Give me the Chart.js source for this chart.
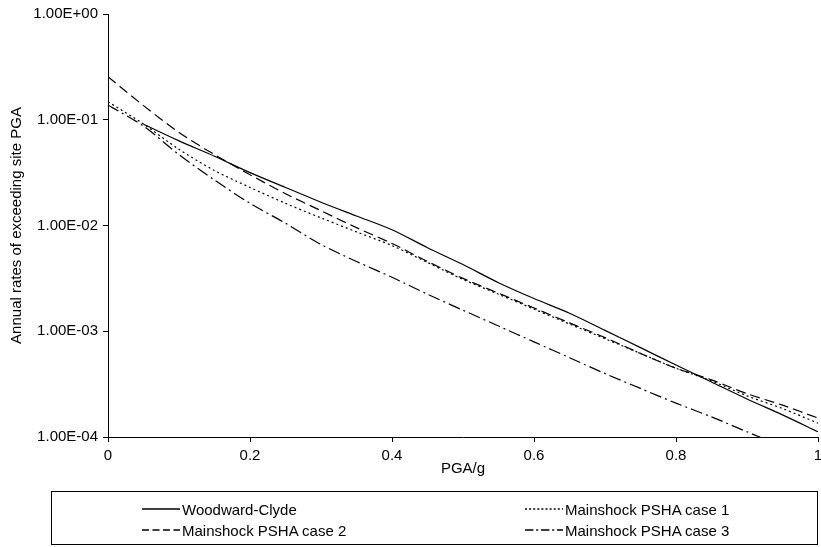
<!DOCTYPE html>
<html>
<head>
<meta charset="utf-8">
<script src="https://cdn.jsdelivr.net/npm/chart.js@4/dist/chart.umd.min.js"></script>
<style>
  body { margin: 0; background: #fff; font-family: "Liberation Sans", Arial, sans-serif; }
  #wrap { position: relative; width: 821px; height: 547px; }
  #legend {
    position: absolute; left: 51px; top: 491px; width: 767px; height: 54px;
    border: 1px solid #000; box-sizing: border-box; font-size: 15px; color: #000;
  }
  .item { position: absolute; display: flex; align-items: center; white-space: nowrap; height: 18px; }
  .item svg { margin-right: 2px; }
</style>
</head>
<body>
<div id="wrap">
  <canvas id="haz" width="821" height="547"></canvas>
  <div id="legend"></div>
</div>
<script>
// Courbes d'aléa : taux annuels de dépassement du PGA
const pga = [0, 0.05, 0.1, 0.15, 0.2, 0.25, 0.3, 0.35, 0.4, 0.45, 0.5,
  0.55, 0.6, 0.65, 0.7, 0.75, 0.8, 0.85, 0.9, 0.95, 1];

const woodwardClyde = [null, 0.0906, 0.0631, 0.0452, 0.0316, 0.0229, 0.0166, 0.0123, 0.00912, 0.00617, 0.00427,
  0.00288, 0.00204, 0.00148, 0.00102, 0.0007, 0.000479, 0.000331, 0.000229, 0.000162, 0.000112];
const case1 = [0.148, 0.0912, 0.0525, 0.0331, 0.0229, 0.0162, 0.0118, 0.0087, 0.00646, 0.00447, 0.00309,
  0.00224, 0.00162, 0.00117, 0.000851, 0.000617, 0.000447, 0.000339, 0.000245, 0.000186, 0.000135];
const case2 = [0.255, 0.136, 0.0759, 0.0468, 0.0302, 0.02, 0.0138, 0.00955, 0.00676, 0.00457, 0.00316,
  0.00229, 0.00166, 0.0012, 0.000871, 0.000617, 0.000447, 0.000347, 0.000257, 0.0002, 0.000151];
const case3 = [0.138, 0.0871, 0.0468, 0.0269, 0.0162, 0.0105, 0.00661, 0.00457, 0.00324, 0.00224, 0.00158,
  0.00112, 0.000794, 0.000562, 0.000398, 0.000288, 0.000209, 0.000155, 0.000112, 0.0000813, null];

const xTicks = [0, 0.2, 0.4, 0.6, 0.8, 1];
const yTicks = [1e-4, 1e-3, 1e-2, 1e-1, 1];

const series = [
  { label: "Woodward-Clyde", values: woodwardClyde, dash: [] },
  { label: "Mainshock PSHA case 1", values: case1, dash: [2, 3] },
  { label: "Mainshock PSHA case 2", values: case2, dash: [10, 5] },
  { label: "Mainshock PSHA case 3", values: case3, dash: [12, 4, 2, 4] },
];

function sci(v) {
  const e = Math.round(Math.log10(v));
  const sign = e < 0 ? "-" : "+";
  return "1.00E" + sign + String(Math.abs(e)).padStart(2, "0");
}

const font = { family: "'Liberation Sans', Arial, sans-serif", size: 15 };

new Chart(document.getElementById("haz"), {
  type: "line",
  data: {
    datasets: series.map((s) => ({
      label: s.label,
      data: pga.map((x, i) => ({ x: x, y: s.values[i] })),
      borderColor: "#000",
      borderWidth: 1.2,
      borderDash: s.dash,
      pointRadius: 0,
      tension: 0.3,
      fill: false,
    })),
  },
  options: {
    responsive: false,
    devicePixelRatio: 1,
    animation: false,
    layout: { padding: { left: 0, top: 14, right: 3, bottom: 69 } },
    plugins: { legend: { display: false }, tooltip: { enabled: false } },
    scales: {
      x: {
        type: "linear",
        min: 0,
        max: 1,
        afterBuildTicks: (scale) => { scale.ticks = xTicks.map((v) => ({ value: v })); },
        afterFit: (scale) => {
          scale.height = 41;
          scale.paddingRight = 0;
          scale.paddingLeft = 0;
        },
        ticks: { color: "#000", font: font, padding: 5, maxRotation: 0, callback: (v) => String(Math.round(v * 10) / 10) },
        grid: { drawOnChartArea: false, drawTicks: true, tickLength: 5, color: "#000" },
        border: { color: "#000", width: 1 },
        title: { display: true, text: "PGA/g", color: "#000", font: font, padding: { top: 0, bottom: 0 } },
      },
      y: {
        type: "logarithmic",
        min: 1e-4,
        max: 1,
        afterBuildTicks: (scale) => { scale.ticks = yTicks.map((v) => ({ value: v })); },
        afterFit: (scale) => { scale.width = 108; },
        ticks: { color: "#000", font: font, padding: 5, callback: (v) => sci(v) },
        grid: { drawOnChartArea: false, drawTicks: true, tickLength: 5, color: "#000" },
        border: { color: "#000", width: 1 },
        title: {
          display: true, text: "Annual rates of exceeding site PGA", color: "#000", font: font,
          padding: { top: 8, bottom: 0 },
        },
      },
    },
  },
});

// Légende en HTML, dans un cadre sous le graphique
const legend = document.getElementById("legend");
const spots = [
  { left: 90, top: 8 }, { left: 473, top: 8 },
  { left: 90, top: 29 }, { left: 473, top: 29 },
];
series.forEach((s, i) => {
  const d = document.createElement("div");
  d.className = "item";
  d.style.left = spots[i].left + "px";
  d.style.top = spots[i].top + "px";
  d.innerHTML = '<svg width="38" height="4"><line x1="0" y1="2" x2="38" y2="2" stroke="#000" stroke-width="1.3" stroke-dasharray="' +
    (s.dash.length ? s.dash.map((n) => Math.max(2, n * 0.7)).join(" ") : "none") + '"/></svg>' + s.label;
  legend.appendChild(d);
});
</script>
</body>
</html>
